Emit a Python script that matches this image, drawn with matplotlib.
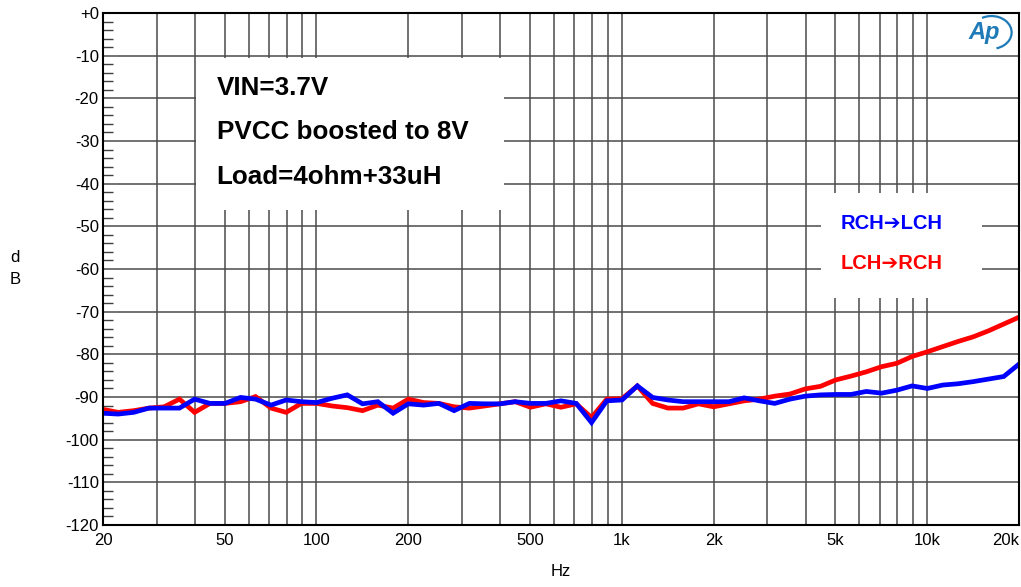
import matplotlib.pyplot as plt
import matplotlib.patches as patches
from matplotlib.ticker import FixedLocator, NullFormatter

plt.rcParams['font.family'] = ['Liberation Sans', 'DejaVu Sans']

# sweep frequencies (Hz), 20 points per decade
freq = [20.0, 22.4, 25.2, 28.3, 31.7, 35.6, 39.9, 44.8, 50.2, 56.4,
        63.2, 71.0, 79.6, 89.3, 100.2, 112.5, 126.2, 141.6, 158.9, 178.3,
        200, 224.4, 251.8, 282.5, 317.0, 355.7, 399.1, 447.7, 502.4, 563.7,
        632.5, 709.6, 796.2, 893.4, 1002, 1125, 1262, 1416, 1589, 1783,
        2000, 2244, 2518, 2825, 3170, 3557, 3991, 4477, 5024, 5637,
        6325, 7096, 7962, 8934, 10024, 11247, 12619, 14159, 15887, 17825, 20000]

# crosstalk, R -> L (blue)
rch_lch = [-93.8, -94.0, -93.6, -92.6, -92.6, -92.6, -90.5, -91.5, -91.5, -90.1,
           -90.5, -91.9, -90.7, -91.1, -91.3, -90.3, -89.5, -91.6, -91.1, -93.8,
           -91.6, -91.9, -91.5, -93.2, -91.5, -91.6, -91.6, -91.1, -91.5, -91.5,
           -90.9, -91.5, -96.0, -90.9, -90.7, -87.4, -90.1, -90.7, -91.1, -91.1,
           -91.1, -91.1, -90.2, -90.9, -91.5, -90.5, -89.8, -89.5, -89.4, -89.4,
           -88.7, -89.1, -88.4, -87.4, -88.0, -87.2, -86.9, -86.4, -85.8, -85.2, -82.3]

# crosstalk, L -> R (red)
lch_rch = [-92.9, -93.6, -93.2, -92.6, -92.3, -90.5, -93.6, -91.5, -91.5, -91.1,
           -89.9, -92.6, -93.6, -91.5, -91.5, -92.1, -92.5, -93.2, -91.9, -92.6,
           -90.5, -91.3, -91.5, -92.3, -92.6, -92.1, -91.6, -91.1, -92.4, -91.6,
           -92.4, -91.6, -94.8, -90.5, -90.4, -87.4, -91.5, -92.6, -92.6, -91.6,
           -92.3, -91.6, -90.9, -90.5, -89.8, -89.3, -88.1, -87.5, -86.0, -85.1,
           -84.1, -82.9, -82.1, -80.5, -79.4, -78.2, -77.0, -75.9, -74.5, -72.9, -71.3]

xticks = [20, 50, 100, 200, 500, 1000, 2000, 5000, 10000, 20000]
xticklabels = ['20', '50', '100', '200', '500', '1k', '2k', '5k', '10k', '20k']
xgrid = [30, 40, 50, 60, 70, 80, 90, 100, 200, 300, 400, 500, 600, 700, 800, 900,
         1000, 2000, 3000, 4000, 5000, 6000, 7000, 8000, 9000, 10000]
yticks = list(range(-120, 1, 10))
yticklabels = ['+0' if v == 0 else str(v) for v in yticks]

fig = plt.figure(figsize=(10.21, 5.87), dpi=100)
ax = fig.add_axes([0.1009, 0.1056, 0.8971, 0.8723])

ax.set_xscale('log')
ax.set_xlim(20, 20000)
ax.set_ylim(-120, 0)

gcol = '#4a4a4a'
for g in xgrid:
    ax.axvline(g, color=gcol, lw=1.1, zorder=1)
for v in yticks[1:-1]:
    ax.axhline(v, color=gcol, lw=1.1, zorder=1)

# white boxes covering the grid
ax.add_patch(patches.Rectangle((0.1015, 0.615), 0.3367, 0.297, transform=ax.transAxes,
                               facecolor='white', edgecolor='none', zorder=2))
ax.add_patch(patches.Rectangle((0.7838, 0.443), 0.1757, 0.205, transform=ax.transAxes,
                               facecolor='white', edgecolor='none', zorder=2))

ax.plot(freq, lch_rch, color='#ff0000', lw=3.4, zorder=3, solid_joinstyle='miter')
ax.plot(freq, rch_lch, color='#0000ff', lw=3.4, zorder=4, solid_joinstyle='miter')

ax.xaxis.set_major_locator(FixedLocator(xticks))
ax.set_xticks(xticks)
ax.set_xticklabels(xticklabels, fontsize=12)
ax.get_xticklabels()[-1].set_horizontalalignment('right')
ax.xaxis.set_minor_formatter(NullFormatter())
ax.tick_params(axis='x', which='both', length=0, pad=6)
ax.set_yticks(yticks)
ax.set_yticklabels(yticklabels, fontsize=12)
ax.set_yticks(range(-120, 1, 2), minor=True)
ax.tick_params(axis='y', which='major', length=0, pad=3)
ax.tick_params(axis='y', which='minor', direction='in', length=7, width=1, color='#404040')

for s in ax.spines.values():
    s.set_color('black')
    s.set_linewidth(1.5)
    s.set_zorder(5)

ax.text(0.124, 0.854, 'VIN=3.7V', transform=ax.transAxes, fontsize=18.7, fontweight='bold',
        va='center', zorder=6)
ax.text(0.124, 0.767, 'PVCC boosted to 8V', transform=ax.transAxes, fontsize=18.7,
        fontweight='bold', va='center', zorder=6)
ax.text(0.124, 0.679, 'Load=4ohm+33uH', transform=ax.transAxes, fontsize=18.7,
        fontweight='bold', va='center', zorder=6)

ax.text(0.8615, 0.589, 'RCH\u2794LCH', transform=ax.transAxes, fontsize=14.5,
        fontweight='bold', color='#0000ff', ha='center', va='center', zorder=6)
ax.text(0.8615, 0.511, 'LCH\u2794RCH', transform=ax.transAxes, fontsize=14.5,
        fontweight='bold', color='#ff0000', ha='center', va='center', zorder=6)

# AP logo
ax.text(0.962, 0.962, 'Ap', transform=ax.transAxes, fontsize=17, fontweight='bold',
        fontstyle='italic', color='#1f7ab8', ha='center', va='center', zorder=6)
ax.add_patch(patches.Arc((0.970, 0.962), 0.044, 0.064, theta1=-80, theta2=110,
                         transform=ax.transAxes, color='#1f7ab8', lw=1.6, zorder=6))

fig.text(15 / 1021, 1 - 258 / 587, 'd', fontsize=12, ha='center', va='center')
fig.text(15 / 1021, 1 - 280 / 587, 'B', fontsize=12, ha='center', va='center')
fig.text(561 / 1021, 1 - 572 / 587, 'Hz', fontsize=12, ha='center', va='center')

fig.savefig('out.png', dpi=100)
